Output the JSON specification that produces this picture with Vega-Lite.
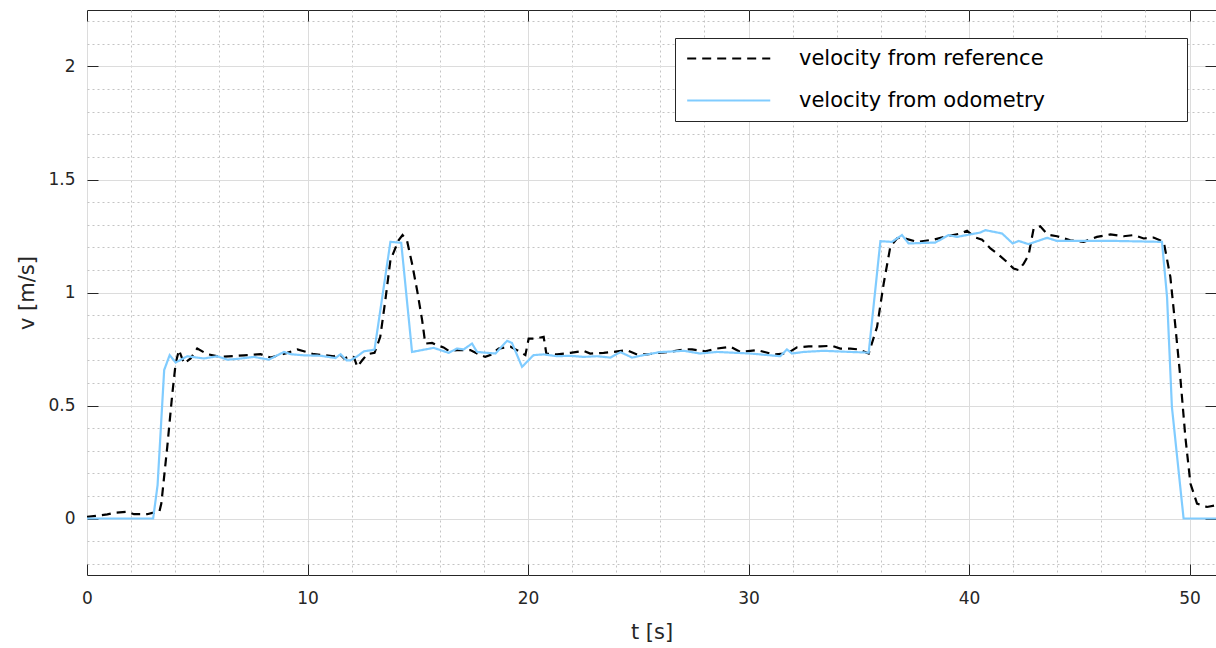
{
  "$schema": "https://vega.github.io/schema/vega-lite/v6.json",
  "width": 1129,
  "height": 565,
  "autosize": {"type": "none"},
  "padding": {"left": 87, "top": 10, "right": 0, "bottom": 73},
  "background": "white",
  "config": {
    "view": {"stroke": "#262626", "strokeWidth": 1},
    "axis": {"domain": false, "labelFont": "DejaVu Sans", "titleFont": "DejaVu Sans", "labelColor": "#262626", "titleColor": "#262626", "titleFontWeight": "normal"}
  },
  "data": {"values": [
    {"t":0,"v":0.007,"s":"velocity from reference"},
    {"t":0.92,"v":0.018,"s":"velocity from reference"},
    {"t":1.22,"v":0.025,"s":"velocity from reference"},
    {"t":1.83,"v":0.03,"s":"velocity from reference"},
    {"t":2.13,"v":0.019,"s":"velocity from reference"},
    {"t":2.73,"v":0.019,"s":"velocity from reference"},
    {"t":2.96,"v":0.025,"s":"velocity from reference"},
    {"t":3.27,"v":0.025,"s":"velocity from reference"},
    {"t":3.37,"v":0.066,"s":"velocity from reference"},
    {"t":3.64,"v":0.317,"s":"velocity from reference"},
    {"t":3.87,"v":0.553,"s":"velocity from reference"},
    {"t":4.02,"v":0.686,"s":"velocity from reference"},
    {"t":4.17,"v":0.745,"s":"velocity from reference"},
    {"t":4.4,"v":0.686,"s":"velocity from reference"},
    {"t":4.7,"v":0.708,"s":"velocity from reference"},
    {"t":5.0,"v":0.752,"s":"velocity from reference"},
    {"t":5.46,"v":0.727,"s":"velocity from reference"},
    {"t":6.06,"v":0.715,"s":"velocity from reference"},
    {"t":7.12,"v":0.722,"s":"velocity from reference"},
    {"t":7.87,"v":0.727,"s":"velocity from reference"},
    {"t":8.33,"v":0.712,"s":"velocity from reference"},
    {"t":9.08,"v":0.733,"s":"velocity from reference"},
    {"t":9.54,"v":0.748,"s":"velocity from reference"},
    {"t":10.29,"v":0.727,"s":"velocity from reference"},
    {"t":11.2,"v":0.718,"s":"velocity from reference"},
    {"t":11.43,"v":0.73,"s":"velocity from reference"},
    {"t":11.66,"v":0.708,"s":"velocity from reference"},
    {"t":11.95,"v":0.718,"s":"velocity from reference"},
    {"t":12.1,"v":0.715,"s":"velocity from reference"},
    {"t":12.26,"v":0.671,"s":"velocity from reference"},
    {"t":12.48,"v":0.7,"s":"velocity from reference"},
    {"t":12.71,"v":0.727,"s":"velocity from reference"},
    {"t":13.04,"v":0.733,"s":"velocity from reference"},
    {"t":13.3,"v":0.804,"s":"velocity from reference"},
    {"t":13.53,"v":0.966,"s":"velocity from reference"},
    {"t":13.76,"v":1.143,"s":"velocity from reference"},
    {"t":14.13,"v":1.231,"s":"velocity from reference"},
    {"t":14.31,"v":1.254,"s":"velocity from reference"},
    {"t":14.51,"v":1.231,"s":"velocity from reference"},
    {"t":14.74,"v":1.128,"s":"velocity from reference"},
    {"t":14.97,"v":1.01,"s":"velocity from reference"},
    {"t":15.2,"v":0.877,"s":"velocity from reference"},
    {"t":15.34,"v":0.774,"s":"velocity from reference"},
    {"t":15.65,"v":0.777,"s":"velocity from reference"},
    {"t":15.87,"v":0.767,"s":"velocity from reference"},
    {"t":16.17,"v":0.757,"s":"velocity from reference"},
    {"t":16.4,"v":0.742,"s":"velocity from reference"},
    {"t":16.78,"v":0.745,"s":"velocity from reference"},
    {"t":17.38,"v":0.745,"s":"velocity from reference"},
    {"t":17.69,"v":0.73,"s":"velocity from reference"},
    {"t":18.06,"v":0.715,"s":"velocity from reference"},
    {"t":18.29,"v":0.723,"s":"velocity from reference"},
    {"t":18.67,"v":0.752,"s":"velocity from reference"},
    {"t":19.2,"v":0.76,"s":"velocity from reference"},
    {"t":19.5,"v":0.745,"s":"velocity from reference"},
    {"t":19.88,"v":0.723,"s":"velocity from reference"},
    {"t":20.03,"v":0.796,"s":"velocity from reference"},
    {"t":20.33,"v":0.796,"s":"velocity from reference"},
    {"t":20.71,"v":0.804,"s":"velocity from reference"},
    {"t":20.83,"v":0.73,"s":"velocity from reference"},
    {"t":21.32,"v":0.726,"s":"velocity from reference"},
    {"t":21.92,"v":0.733,"s":"velocity from reference"},
    {"t":22.52,"v":0.742,"s":"velocity from reference"},
    {"t":22.82,"v":0.73,"s":"velocity from reference"},
    {"t":23.43,"v":0.733,"s":"velocity from reference"},
    {"t":23.88,"v":0.737,"s":"velocity from reference"},
    {"t":24.49,"v":0.745,"s":"velocity from reference"},
    {"t":24.94,"v":0.726,"s":"velocity from reference"},
    {"t":25.4,"v":0.726,"s":"velocity from reference"},
    {"t":25.92,"v":0.733,"s":"velocity from reference"},
    {"t":26.45,"v":0.737,"s":"velocity from reference"},
    {"t":27.06,"v":0.748,"s":"velocity from reference"},
    {"t":27.44,"v":0.748,"s":"velocity from reference"},
    {"t":28.04,"v":0.74,"s":"velocity from reference"},
    {"t":28.57,"v":0.752,"s":"velocity from reference"},
    {"t":29.18,"v":0.76,"s":"velocity from reference"},
    {"t":29.63,"v":0.737,"s":"velocity from reference"},
    {"t":30.39,"v":0.745,"s":"velocity from reference"},
    {"t":31.14,"v":0.726,"s":"velocity from reference"},
    {"t":31.74,"v":0.73,"s":"velocity from reference"},
    {"t":32.2,"v":0.757,"s":"velocity from reference"},
    {"t":32.73,"v":0.762,"s":"velocity from reference"},
    {"t":33.26,"v":0.762,"s":"velocity from reference"},
    {"t":33.79,"v":0.764,"s":"velocity from reference"},
    {"t":34.16,"v":0.752,"s":"velocity from reference"},
    {"t":34.62,"v":0.752,"s":"velocity from reference"},
    {"t":34.99,"v":0.748,"s":"velocity from reference"},
    {"t":35.45,"v":0.73,"s":"velocity from reference"},
    {"t":35.83,"v":0.848,"s":"velocity from reference"},
    {"t":36.13,"v":1.04,"s":"velocity from reference"},
    {"t":36.43,"v":1.202,"s":"velocity from reference"},
    {"t":36.73,"v":1.239,"s":"velocity from reference"},
    {"t":36.88,"v":1.243,"s":"velocity from reference"},
    {"t":37.1,"v":1.239,"s":"velocity from reference"},
    {"t":37.64,"v":1.224,"s":"velocity from reference"},
    {"t":38.4,"v":1.234,"s":"velocity from reference"},
    {"t":39.0,"v":1.249,"s":"velocity from reference"},
    {"t":39.61,"v":1.261,"s":"velocity from reference"},
    {"t":39.91,"v":1.273,"s":"velocity from reference"},
    {"t":40.29,"v":1.243,"s":"velocity from reference"},
    {"t":40.59,"v":1.234,"s":"velocity from reference"},
    {"t":40.97,"v":1.195,"s":"velocity from reference"},
    {"t":41.27,"v":1.173,"s":"velocity from reference"},
    {"t":41.72,"v":1.135,"s":"velocity from reference"},
    {"t":42.02,"v":1.106,"s":"velocity from reference"},
    {"t":42.25,"v":1.099,"s":"velocity from reference"},
    {"t":42.48,"v":1.128,"s":"velocity from reference"},
    {"t":42.7,"v":1.165,"s":"velocity from reference"},
    {"t":42.93,"v":1.283,"s":"velocity from reference"},
    {"t":43.23,"v":1.293,"s":"velocity from reference"},
    {"t":43.46,"v":1.268,"s":"velocity from reference"},
    {"t":43.69,"v":1.254,"s":"velocity from reference"},
    {"t":43.99,"v":1.249,"s":"velocity from reference"},
    {"t":44.59,"v":1.231,"s":"velocity from reference"},
    {"t":45.2,"v":1.224,"s":"velocity from reference"},
    {"t":45.8,"v":1.246,"s":"velocity from reference"},
    {"t":46.41,"v":1.257,"s":"velocity from reference"},
    {"t":47.01,"v":1.249,"s":"velocity from reference"},
    {"t":47.47,"v":1.254,"s":"velocity from reference"},
    {"t":47.92,"v":1.239,"s":"velocity from reference"},
    {"t":48.37,"v":1.243,"s":"velocity from reference"},
    {"t":48.83,"v":1.224,"s":"velocity from reference"},
    {"t":49.13,"v":1.069,"s":"velocity from reference"},
    {"t":49.36,"v":0.848,"s":"velocity from reference"},
    {"t":49.58,"v":0.627,"s":"velocity from reference"},
    {"t":49.81,"v":0.361,"s":"velocity from reference"},
    {"t":50.04,"v":0.155,"s":"velocity from reference"},
    {"t":50.34,"v":0.066,"s":"velocity from reference"},
    {"t":50.79,"v":0.051,"s":"velocity from reference"},
    {"t":51.2,"v":0.059,"s":"velocity from reference"},
    {"t":0,"v":0,"s":"velocity from odometry"},
    {"t":3.0,"v":0,"s":"velocity from odometry"},
    {"t":3.2,"v":0.147,"s":"velocity from odometry"},
    {"t":3.5,"v":0.657,"s":"velocity from odometry"},
    {"t":3.75,"v":0.723,"s":"velocity from odometry"},
    {"t":4.02,"v":0.69,"s":"velocity from odometry"},
    {"t":4.55,"v":0.718,"s":"velocity from odometry"},
    {"t":5.3,"v":0.708,"s":"velocity from odometry"},
    {"t":5.9,"v":0.718,"s":"velocity from odometry"},
    {"t":6.36,"v":0.703,"s":"velocity from odometry"},
    {"t":6.8,"v":0.706,"s":"velocity from odometry"},
    {"t":7.57,"v":0.715,"s":"velocity from odometry"},
    {"t":8.25,"v":0.703,"s":"velocity from odometry"},
    {"t":8.93,"v":0.737,"s":"velocity from odometry"},
    {"t":9.24,"v":0.727,"s":"velocity from odometry"},
    {"t":9.84,"v":0.722,"s":"velocity from odometry"},
    {"t":10.6,"v":0.72,"s":"velocity from odometry"},
    {"t":11.27,"v":0.71,"s":"velocity from odometry"},
    {"t":11.5,"v":0.727,"s":"velocity from odometry"},
    {"t":11.77,"v":0.7,"s":"velocity from odometry"},
    {"t":11.95,"v":0.7,"s":"velocity from odometry"},
    {"t":12.26,"v":0.718,"s":"velocity from odometry"},
    {"t":12.56,"v":0.74,"s":"velocity from odometry"},
    {"t":12.94,"v":0.745,"s":"velocity from odometry"},
    {"t":13.04,"v":0.748,"s":"velocity from odometry"},
    {"t":13.76,"v":1.224,"s":"velocity from odometry"},
    {"t":14.25,"v":1.22,"s":"velocity from odometry"},
    {"t":14.74,"v":0.737,"s":"velocity from odometry"},
    {"t":15.72,"v":0.755,"s":"velocity from odometry"},
    {"t":16.4,"v":0.733,"s":"velocity from odometry"},
    {"t":16.78,"v":0.752,"s":"velocity from odometry"},
    {"t":17.08,"v":0.748,"s":"velocity from odometry"},
    {"t":17.46,"v":0.774,"s":"velocity from odometry"},
    {"t":17.69,"v":0.737,"s":"velocity from odometry"},
    {"t":18.52,"v":0.73,"s":"velocity from odometry"},
    {"t":19.05,"v":0.786,"s":"velocity from odometry"},
    {"t":19.27,"v":0.777,"s":"velocity from odometry"},
    {"t":19.73,"v":0.671,"s":"velocity from odometry"},
    {"t":20.25,"v":0.723,"s":"velocity from odometry"},
    {"t":20.71,"v":0.726,"s":"velocity from odometry"},
    {"t":21.32,"v":0.718,"s":"velocity from odometry"},
    {"t":21.92,"v":0.72,"s":"velocity from odometry"},
    {"t":22.52,"v":0.715,"s":"velocity from odometry"},
    {"t":23.13,"v":0.718,"s":"velocity from odometry"},
    {"t":23.73,"v":0.712,"s":"velocity from odometry"},
    {"t":24.19,"v":0.736,"s":"velocity from odometry"},
    {"t":24.72,"v":0.712,"s":"velocity from odometry"},
    {"t":25.24,"v":0.723,"s":"velocity from odometry"},
    {"t":25.97,"v":0.736,"s":"velocity from odometry"},
    {"t":27.06,"v":0.742,"s":"velocity from odometry"},
    {"t":27.8,"v":0.73,"s":"velocity from odometry"},
    {"t":28.57,"v":0.737,"s":"velocity from odometry"},
    {"t":30.08,"v":0.73,"s":"velocity from odometry"},
    {"t":31.44,"v":0.718,"s":"velocity from odometry"},
    {"t":31.74,"v":0.748,"s":"velocity from odometry"},
    {"t":31.97,"v":0.73,"s":"velocity from odometry"},
    {"t":32.5,"v":0.737,"s":"velocity from odometry"},
    {"t":33.4,"v":0.742,"s":"velocity from odometry"},
    {"t":34.6,"v":0.737,"s":"velocity from odometry"},
    {"t":35.45,"v":0.734,"s":"velocity from odometry"},
    {"t":35.98,"v":1.227,"s":"velocity from odometry"},
    {"t":36.5,"v":1.224,"s":"velocity from odometry"},
    {"t":36.96,"v":1.254,"s":"velocity from odometry"},
    {"t":37.26,"v":1.217,"s":"velocity from odometry"},
    {"t":38.47,"v":1.221,"s":"velocity from odometry"},
    {"t":39.07,"v":1.254,"s":"velocity from odometry"},
    {"t":39.45,"v":1.246,"s":"velocity from odometry"},
    {"t":40.5,"v":1.265,"s":"velocity from odometry"},
    {"t":40.74,"v":1.276,"s":"velocity from odometry"},
    {"t":41.5,"v":1.261,"s":"velocity from odometry"},
    {"t":41.98,"v":1.217,"s":"velocity from odometry"},
    {"t":42.25,"v":1.228,"s":"velocity from odometry"},
    {"t":42.7,"v":1.214,"s":"velocity from odometry"},
    {"t":43.54,"v":1.242,"s":"velocity from odometry"},
    {"t":43.99,"v":1.228,"s":"velocity from odometry"},
    {"t":46.71,"v":1.228,"s":"velocity from odometry"},
    {"t":48.75,"v":1.224,"s":"velocity from odometry"},
    {"t":48.98,"v":0.98,"s":"velocity from odometry"},
    {"t":49.2,"v":0.494,"s":"velocity from odometry"},
    {"t":49.73,"v":0,"s":"velocity from odometry"},
    {"t":51.2,"v":0,"s":"velocity from odometry"}
  ]},
  "layer": [
    {
      "mark": {"type": "line", "strokeWidth": 2.2, "clip": true},
      "encoding": {
        "x": {"field": "t", "type": "quantitative", "scale": {"domain": [0, 51.2], "nice": false, "zero": false},
          "axis": {
            "values": [0,2,4,6,8,10,12,14,16,18,20,22,24,26,28,30,32,34,36,38,40,42,44,46,48,50],
            "format": "~g",
            "labelExpr": "datum.value % 10 === 0 ? datum.label : ''",
            "labelOverlap": false, "labelFlush": false,
            "grid": true,
            "gridColor": {"condition": {"test": "datum.value % 10 === 0", "value": "#dcdcdc"}, "value": "#c4c4c4"},
            "gridDash": {"condition": {"test": "datum.value % 10 === 0", "value": []}, "value": [2, 3]},
            "tickOpacity": {"condition": {"test": "datum.value % 10 === 0", "value": 1}, "value": 0},
            "tickSize": -11, "tickColor": "#262626",
            "labelPadding": 26, "labelFontSize": 17,
            "title": "t [s]", "titleFontSize": 21, "titlePadding": 15
          }},
        "y": {"field": "v", "type": "quantitative", "scale": {"domain": [-0.25, 2.25], "nice": false, "zero": false},
          "axis": {
            "values": [-0.2,-0.1,0,0.1,0.2,0.3,0.4,0.5,0.6,0.7,0.8,0.9,1,1.1,1.2,1.3,1.4,1.5,1.6,1.7,1.8,1.9,2,2.1,2.2],
            "format": "~g",
            "labelExpr": "abs(datum.value*2 - round(datum.value*2)) < 0.000001 ? datum.label : ''",
            "labelOverlap": false, "labelFlush": false,
            "grid": true,
            "gridColor": {"condition": {"test": "abs(datum.value*2 - round(datum.value*2)) < 0.000001", "value": "#dcdcdc"}, "value": "#c4c4c4"},
            "gridDash": {"condition": {"test": "abs(datum.value*2 - round(datum.value*2)) < 0.000001", "value": []}, "value": [2, 3]},
            "tickOpacity": {"condition": {"test": "abs(datum.value*2 - round(datum.value*2)) < 0.000001", "value": 1}, "value": 0},
            "tickSize": -11, "tickColor": "#262626",
            "labelPadding": 23, "labelFontSize": 17,
            "title": "v [m/s]", "titleFontSize": 21, "titlePadding": 10
          }},
        "color": {"field": "s", "type": "nominal",
          "scale": {"domain": ["velocity from reference", "velocity from odometry"], "range": ["#000000", "#80ccff"]},
          "legend": {
            "title": "\u00a0", "titleOrient": "right", "titlePadding": 132, "titleFontSize": 11,
            "orient": "none", "legendX": 588, "legendY": 28,
            "strokeColor": "#262626", "fillColor": "white", "padding": 10,
            "symbolType": "M-1,0H9", "symbolSize": 276, "symbolStrokeWidth": 2.2,
            "labelFont": "DejaVu Sans", "labelFontSize": 21, "labelColor": "#000000",
            "labelOffset": 93, "rowPadding": 20, "labelLimit": 600
          }},
        "strokeDash": {"field": "s", "type": "nominal",
          "scale": {"domain": ["velocity from reference", "velocity from odometry"], "range": [[9, 6], [1, 0]]},
          "legend": null}
      }
    },
    {
      "mark": {"type": "line", "opacity": 0},
      "encoding": {
        "x": {"field": "t", "type": "quantitative",
          "axis": {"orient": "top", "values": [0,10,20,30,40,50], "labels": false, "grid": false, "tickSize": -11, "tickColor": "#262626", "title": null}},
        "y": {"field": "v", "type": "quantitative",
          "axis": {"orient": "right", "values": [0,0.5,1,1.5,2], "labels": false, "grid": false, "tickSize": -11, "tickColor": "#262626", "title": null}}
      }
    }
  ],
  "resolve": {"axis": {"x": "independent", "y": "independent"}}
}
